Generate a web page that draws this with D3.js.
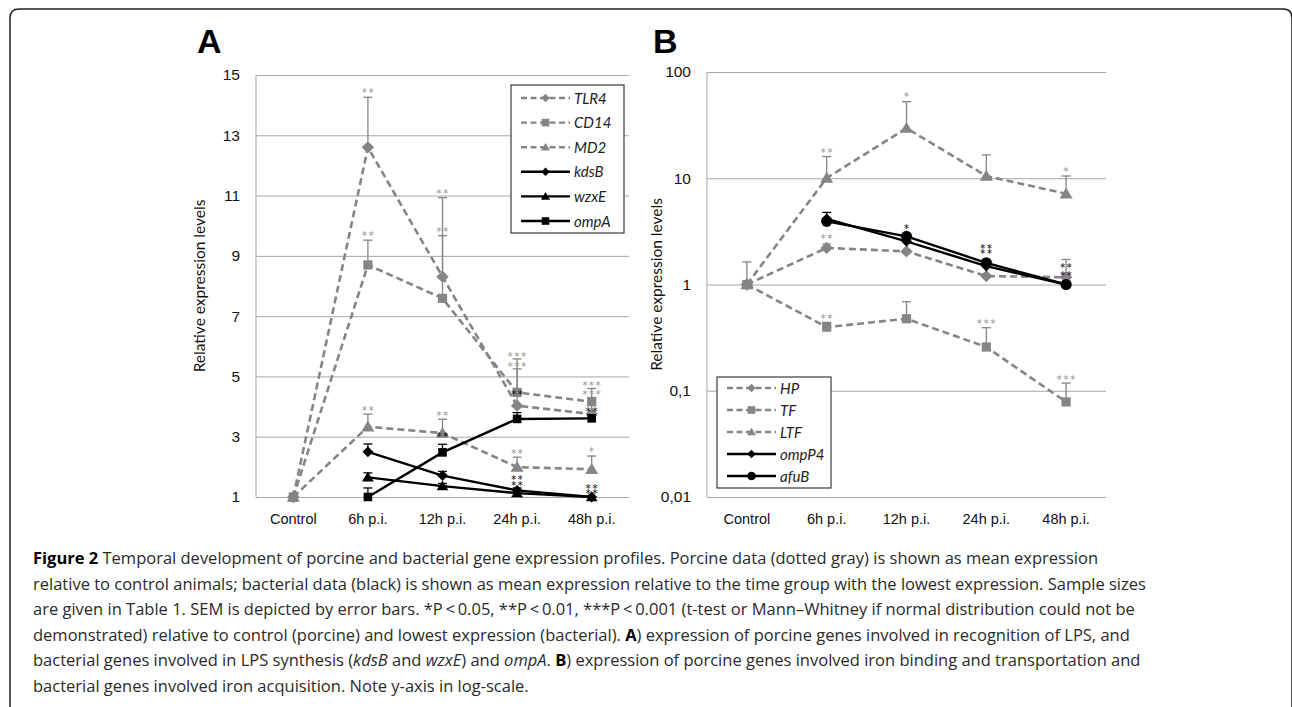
<!DOCTYPE html>
<html>
<head>
<meta charset="utf-8">
<script src="https://d3js.org/d3.v7.min.js"></script>
<style>
  body { margin: 0; background: #fff; }
  svg { font-family: Lato, "Open Sans", sans-serif; }
  .grid line { stroke: #a6a6a6; stroke-width: 1; }
  .grid .domain { display: none; }
  .ticks text { font-size: 15.5px; fill: #111; }
  .cats text { font-size: 14.5px; fill: #111; }
  .ytitle { font-size: 15.5px; fill: #111; }
  .panel-label { font-family: "Liberation Sans", Arial, sans-serif; font-weight: bold; font-size: 34px; fill: #000; }
  .legend text { font-size: 15px; font-style: italic; fill: #222; }
  .stars { font-size: 15px; text-anchor: middle; letter-spacing: 0.3px; }
  .caption { font-family: "Open Sans", sans-serif; fill: #2a2a2a; }
</style>
</head>
<body>
<svg width="1292" height="707"></svg>
<script>
// categories shared by both panels
const categories = ["Control", "6h p.i.", "12h p.i.", "24h p.i.", "48h p.i."];

// Panel A: linear scale
const ticksA = [1, 3, 5, 7, 9, 11, 13, 15];
const tlr4 = [1, 12.6, 8.31, 4.03, 3.75];
const tlr4Err = [null, 14.26, 10.93, 5.25, 4.3];
const cd14 = [1, 8.7, 7.59, 4.47, 4.16];
const cd14Err = [null, 9.52, 9.67, 5.58, 4.6];
const md2 = [1, 3.33, 3.12, 1.99, 1.92];
const md2Err = [null, 3.75, 3.58, 2.32, 2.36];
const kdsB = [null, 2.5, 1.71, 1.22, 1.0];
const kdsBErr = [null, 2.76, 1.85, 1.3, null];
const wzxE = [null, 1.65, 1.36, 1.13, 1.0];
const wzxEErr = [null, 1.8, 1.45, 1.2, null];
const ompA = [null, 1.0, 2.48, 3.59, 3.61];
const ompAErr = [null, 1.3, 2.75, 3.8, 3.7];
// significance marks: [category index, value, label, bacterial?]
const starsA = [
  [1, 14.5, "**", 0], [2, 11.15, "**", 0], [1, 9.74, "**", 0], [2, 9.86, "**", 0],
  [3, 5.74, "***", 0], [3, 5.41, "***", 0], [4, 4.78, "***", 0], [4, 4.48, "***", 0],
  [1, 3.92, "**", 0], [2, 3.78, "**", 0], [3, 2.5, "**", 0], [4, 2.58, "*", 0],
  [2, 3.09, "**", 1], [3, 4.48, "**", 1], [4, 3.89, "**", 1],
  [3, 1.66, "**", 1], [3, 1.46, "**", 1], [4, 1.36, "**", 1], [4, 1.17, "**", 1]
];

// Panel B: log scale
const ticksB = [0.01, 0.1, 1, 10, 100];
const tickLabelsB = ["0,01", "0,1", "1", "10", "100"];
const hp = [1, 2.21, 2.05, 1.2, 1.17];
const hpErr = [1.63, 2.4, null, null, 1.72];
const tf = [1, 0.397, 0.476, 0.258, 0.0785];
const tfErr = [null, 0.44, 0.688, 0.392, 0.118];
const ltf = [1, 10.05, 29.6, 10.5, 7.15];
const ltfErr = [null, 16.0, 52.6, 16.6, 10.5];
const ompP4 = [null, 4.14, 2.55, 1.49, 1.0];
const ompP4Err = [null, 4.77, null, null, null];
const afuB = [null, 3.93, 2.84, 1.6, 1.0];
const afuBErr = [null, null, null, null, null];
const starsB = [
  [1, 18.2, "**", 0], [2, 60.8, "*", 0], [4, 12.0, "*", 0], [1, 2.84, "**", 0],
  [1, 0.504, "**", 0], [3, 0.452, "***", 0], [4, 0.133, "***", 0],
  [2, 3.53, "*", 1], [3, 2.29, "**", 1], [3, 2.06, "**", 1], [4, 1.51, "**", 1], [4, 1.27, "**", 1]
];

const GRAY = "#858585";

const svg = d3.select("svg");

// outer rounded frame
svg.append("path")
  .attr("d", "M10,707 V18 Q10,9 19,9 H1283 Q1292,9 1292,18 V707")
  .attr("fill", "none").attr("stroke", "#222").attr("stroke-width", 1.5);

function markerPath(type, r) {
  if (type === "diamond") return `M0,${-r}L${r},0L0,${r}L${-r},0Z`;
  if (type === "square") return `M${-r},${-r}H${r}V${r}H${-r}Z`;
  if (type === "triangle") return `M0,${-r}L${r * 1.05},${r * 0.75}L${-r * 1.05},${r * 0.75}Z`;
  return d3.arc()({ innerRadius: 0, outerRadius: r, startAngle: 0, endAngle: 2 * Math.PI });
}
const markerSize = { diamond: 6.2, square: 4.6, triangle: 6.2, circle: 5.6 };
const markerSizeBlack = { diamond: 5.4, square: 4.3, triangle: 5.6, circle: 5.6 };

function drawPanel(cfg) {
  const g = svg.append("g");
  const x = d3.scaleBand().domain(categories).range([cfg.x0, cfg.x1]);
  const cx = c => x(c) + x.bandwidth() / 2;
  const y = cfg.y;

  // gridlines
  g.append("g").attr("class", "grid")
    .attr("transform", `translate(${cfg.x0},0)`)
    .call(d3.axisLeft(y).tickValues(cfg.ticks).tickSize(-(cfg.x1 - cfg.x0)).tickFormat(""));
  g.append("line").attr("x1", cfg.x0).attr("x2", cfg.x0)
    .attr("y1", y.range()[1]).attr("y2", y.range()[0])
    .attr("stroke", "#a6a6a6");

  // tick labels
  const ya = g.append("g").attr("class", "ticks")
    .attr("transform", `translate(${cfg.x0},0)`)
    .call(d3.axisLeft(y).tickValues(cfg.ticks).tickSize(0).tickPadding(16).tickFormat(cfg.fmt));
  ya.select(".domain").remove();
  ya.selectAll("text").attr("font-family", null).attr("font-size", null);

  const xa = g.append("g").attr("class", "cats")
    .attr("transform", `translate(0,${y.range()[0]})`)
    .call(d3.axisBottom(x).tickSize(0).tickPadding(17));
  xa.select(".domain").remove();
  xa.selectAll("text").attr("font-family", null).attr("font-size", null);

  g.append("text").attr("class", "ytitle")
    .attr("transform", `translate(${cfg.titleX},${(y.range()[0] + y.range()[1]) / 2}) rotate(-90)`)
    .attr("text-anchor", "middle")
    .text("Relative expression levels");

  g.append("text").attr("class", "panel-label")
    .attr("x", cfg.labelX).attr("y", 53).text(cfg.label);

  // series
  cfg.series.forEach(s => {
    const col = s.black ? "#000" : GRAY;
    const pts = categories.map((c, i) => ({ c, v: s.values[i], e: s.err[i] }))
      .filter(d => d.v !== null);
    // error bars
    pts.filter(d => d.e !== null && d.e !== undefined).forEach(d => {
      g.append("line").attr("x1", cx(d.c)).attr("x2", cx(d.c))
        .attr("y1", y(d.v)).attr("y2", y(d.e))
        .attr("stroke", col).attr("stroke-width", 1.3);
      g.append("line").attr("x1", cx(d.c) - 4.5).attr("x2", cx(d.c) + 4.5)
        .attr("y1", y(d.e)).attr("y2", y(d.e))
        .attr("stroke", col).attr("stroke-width", 1.3);
    });
    g.append("path")
      .attr("d", d3.line().x(d => cx(d.c)).y(d => y(d.v))(pts))
      .attr("fill", "none").attr("stroke", col)
      .attr("stroke-width", s.black ? 2.4 : 2.6)
      .attr("stroke-dasharray", s.black ? null : "7,4");
    const r = (s.black ? markerSizeBlack : markerSize)[s.marker];
    g.selectAll(null).data(pts).enter().append("path")
      .attr("transform", d => `translate(${cx(d.c)},${y(d.v)})`)
      .attr("d", markerPath(s.marker, r))
      .attr("fill", col);
  });

  // stars
  cfg.stars.forEach(([ci, v, lab, black]) => {
    g.append("text").attr("class", "stars")
      .attr("x", cx(categories[ci])).attr("y", y(v) + 8.5)
      .attr("fill", black ? "#111" : "#9a9a9a")
      .text(lab);
  });

  // legend
  const L = cfg.legend;
  const lg = g.append("g").attr("class", "legend");
  lg.append("rect").attr("x", L.x).attr("y", L.y).attr("width", L.w).attr("height", L.h)
    .attr("fill", "#fff").attr("stroke", "#3a3a3a").attr("stroke-width", 1.2);
  cfg.series.forEach((s, i) => {
    const col = s.black ? "#000" : GRAY;
    const ry = L.row0 + i * L.step;
    lg.append("line").attr("x1", L.x + 10).attr("x2", L.x + 59)
      .attr("y1", ry).attr("y2", ry)
      .attr("stroke", col).attr("stroke-width", 2.4)
      .attr("stroke-dasharray", s.black ? null : "6,3.5");
    lg.append("path").attr("transform", `translate(${L.x + 34.5},${ry})`)
      .attr("d", markerPath(s.marker, s.marker === "square" ? 3.8 : 4.3))
      .attr("fill", col);
    lg.append("text").attr("x", L.x + 63).attr("y", ry + 5.5).text(s.name);
  });
}

drawPanel({
  x0: 256, x1: 629, titleX: 205, labelX: 197, label: "A",
  y: d3.scaleLinear().domain([1, 15]).range([497, 75]),
  ticks: ticksA, fmt: d3.format("d"),
  series: [
    { name: "TLR4", values: tlr4, err: tlr4Err, marker: "diamond" },
    { name: "CD14", values: cd14, err: cd14Err, marker: "square" },
    { name: "MD2", values: md2, err: md2Err, marker: "triangle" },
    { name: "kdsB", values: kdsB, err: kdsBErr, marker: "diamond", black: true },
    { name: "wzxE", values: wzxE, err: wzxEErr, marker: "triangle", black: true },
    { name: "ompA", values: ompA, err: ompAErr, marker: "square", black: true }
  ],
  stars: starsA,
  legend: { x: 511, y: 85, w: 113, h: 148, row0: 98, step: 24.6 }
});

drawPanel({
  x0: 707, x1: 1106, titleX: 662, labelX: 653, label: "B",
  y: d3.scaleLog().domain([0.01, 100]).range([497, 72]),
  ticks: ticksB, fmt: (d, i) => tickLabelsB[i],
  series: [
    { name: "HP", values: hp, err: hpErr, marker: "diamond" },
    { name: "TF", values: tf, err: tfErr, marker: "square" },
    { name: "LTF", values: ltf, err: ltfErr, marker: "triangle" },
    { name: "ompP4", values: ompP4, err: ompP4Err, marker: "diamond", black: true },
    { name: "afuB", values: afuB, err: afuBErr, marker: "circle", black: true }
  ],
  stars: starsB,
  legend: { x: 717, y: 377, w: 114, h: 111, row0: 388, step: 22 }
});

// caption
const captionLines = [
  [["Figure 2", "b"], [" Temporal development of porcine and bacterial gene expression profiles. Porcine data (dotted gray) is shown as mean expression", ""]],
  [["relative to control animals; bacterial data (black) is shown as mean expression relative to the time group with the lowest expression. Sample sizes", ""]],
  [["are given in Table 1. SEM is depicted by error bars. *P\u2009<\u20090.05, **P\u2009<\u20090.01, ***P\u2009<\u20090.001 (t-test or Mann\u2013Whitney if normal distribution could not be", ""]],
  [["demonstrated) relative to control (porcine) and lowest expression (bacterial). ", ""], ["A", "b"], [") expression of porcine genes involved in recognition of LPS, and", ""]],
  [["bacterial genes involved in LPS synthesis (", ""], ["kdsB", "i"], [" and ", ""], ["wzxE", "i"], [") and ", ""], ["ompA", "i"], [". ", ""], ["B", "b"], [") expression of porcine genes involved iron binding and transportation and", ""]],
  [["bacterial genes involved iron acquisition. Note y-axis in log-scale.", ""]]
];
const cap = svg.append("g").attr("class", "caption");
const capTexts = captionLines.map((segs, i) => {
  const t = cap.append("text").attr("x", 33).attr("y", 564 + i * 25.6).attr("font-size", 16);
  segs.forEach(([s, st]) => {
    t.append("tspan").text(s)
      .attr("font-weight", st === "b" ? "bold" : null)
      .attr("font-style", st === "i" ? "italic" : null)
      .attr("fill", st === "b" ? "#000" : null);
  });
  return t;
});
// fit the longest line to the width seen in the figure
const w2 = capTexts[1].node().getComputedTextLength();
const fs = 16 * 1114 / w2;
capTexts.forEach(t => t.attr("font-size", fs));
</script>
</body>
</html>
